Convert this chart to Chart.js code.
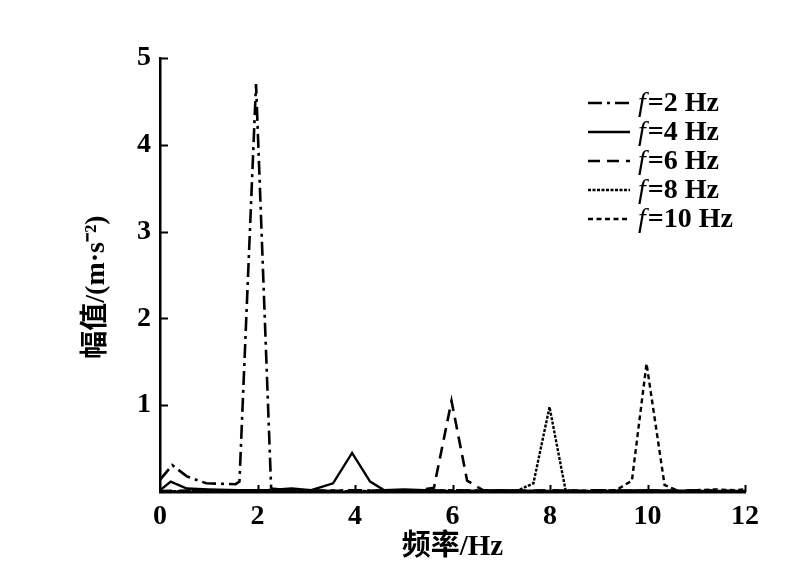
<!DOCTYPE html>
<html>
<head>
<meta charset="utf-8">
<script src="https://cdn.jsdelivr.net/npm/chart.js@4.4.1/dist/chart.umd.min.js"></script>
<style>
  html, body { margin: 0; padding: 0; background: #fff; }
  #wrap { width: 803px; height: 584px; position: relative; }
</style>
</head>
<body>
<div id="wrap"><canvas id="c"></canvas></div>
<script>
// ---- data (frequency, Hz / amplitude, m·s^-2) ----
const freq2 = [0, 0.25, 0.55, 0.95, 1.55, 1.63, 1.97, 2.28, 2.6, 3.2, 4, 5, 6, 7, 8, 9, 10, 11, 12];
const amp2  = [0.14, 0.31, 0.18, 0.1, 0.09, 0.12, 4.7, 0.04, 0.02, 0.01, 0.02, 0.01, 0.02, 0.01, 0.01, 0.02, 0.01, 0.01, 0.01];

const freq4 = [0, 0.22, 0.55, 1, 1.6, 2.2, 2.7, 3.1, 3.55, 3.94, 4.31, 4.6, 5, 6, 7, 8, 9, 10, 11, 12];
const amp4  = [0.02, 0.12, 0.04, 0.03, 0.02, 0.02, 0.04, 0.02, 0.1, 0.45, 0.12, 0.02, 0.03, 0.01, 0.02, 0.01, 0.01, 0.02, 0.01, 0.01];

const freq6 = [0, 1, 2, 3, 4, 5, 5.3, 5.62, 5.98, 6.3, 6.63, 7, 8, 9, 10, 11, 12];
const amp6  = [0.01, 0.02, 0.01, 0.02, 0.01, 0.02, 0.02, 0.05, 1.05, 0.13, 0.02, 0.01, 0.02, 0.01, 0.01, 0.02, 0.01];

const freq8 = [0, 1, 2, 3, 4, 5, 6, 7, 7.35, 7.66, 7.99, 8.32, 8.6, 9, 10, 11, 12];
const amp8  = [0.01, 0.01, 0.02, 0.01, 0.01, 0.02, 0.01, 0.01, 0.02, 0.1, 0.98, 0.02, 0.01, 0.02, 0.01, 0.01, 0.01];

const freq10 = [0, 1, 2, 3, 4, 5, 6, 7, 8, 9, 9.35, 9.68, 9.98, 10.35, 10.65, 11, 11.4, 11.8, 12];
const amp10  = [0.01, 0.01, 0.01, 0.02, 0.01, 0.01, 0.02, 0.01, 0.01, 0.01, 0.02, 0.13, 1.48, 0.08, 0.01, 0.02, 0.03, 0.02, 0.03];

const xTicks = [0, 2, 4, 6, 8, 10, 12];
const yTicks = [0, 1, 2, 3, 4, 5];
const legendNames = ['=2 Hz', '=4 Hz', '=6 Hz', '=8 Hz', '=10 Hz'];
const xTitle = '频率/Hz';
const yTitle = '幅值/(m·s⁻²)';

// стили линий
const dashes = [[14, 5, 3, 5], [], [12, 7], [3, 1.5], [5, 3.5]];
const widths = [2.6, 2.4, 2.6, 2.4, 2.4];

const SERIF = '"Liberation Serif", "Noto Sans CJK SC", serif';

function pts(xs, ys) { return xs.map((x, i) => ({ x, y: ys[i] })); }

const series = [pts(freq2, amp2), pts(freq4, amp4), pts(freq6, amp6), pts(freq8, amp8), pts(freq10, amp10)];

// inward ticks, rotated y title, legend with italic f
const decor = {
  id: 'decor',
  afterDraw(chart) {
    const { ctx, chartArea: a, scales: { x, y } } = chart;
    ctx.save();
    ctx.strokeStyle = '#000';
    ctx.lineWidth = 2;
    yTicks.forEach(v => {
      if (!v) return;
      const py = Math.round(y.getPixelForValue(v)) + 0.5;
      ctx.beginPath(); ctx.moveTo(a.left, py); ctx.lineTo(a.left + 8, py); ctx.stroke();
    });
    xTicks.forEach(v => {
      if (!v) return;
      const px = Math.round(x.getPixelForValue(v)) + 0.5;
      ctx.beginPath(); ctx.moveTo(px, a.bottom); ctx.lineTo(px, a.bottom - 7); ctx.stroke();
    });

    // y title
    ctx.save();
    ctx.translate(97, 287);
    ctx.rotate(-Math.PI / 2);
    ctx.fillStyle = '#000';
    ctx.font = 'bold 28px ' + SERIF;
    ctx.textAlign = 'center';
    ctx.textBaseline = 'middle';
    ctx.fillText(yTitle, 0, 0);
    ctx.restore();

    // legend
    ctx.fillStyle = '#000';
    ctx.textBaseline = 'middle';
    ctx.textAlign = 'left';
    legendNames.forEach((name, i) => {
      const ly = 103 + i * 29;
      ctx.save();
      ctx.lineWidth = widths[i];
      ctx.setLineDash(dashes[i]);
      ctx.beginPath(); ctx.moveTo(588, ly); ctx.lineTo(630, ly); ctx.stroke();
      ctx.restore();
      ctx.font = 'italic 28px ' + SERIF;
      ctx.fillText('f', 638, ly + 1);
      const w = ctx.measureText('f').width;
      ctx.font = 'bold 28px ' + SERIF;
      ctx.fillText(name, 638 + w + 2, ly + 1);
    });
    ctx.restore();
  }
};

new Chart(document.getElementById('c'), {
  type: 'scatter',
  data: {
    datasets: series.map((d, i) => ({
      label: 'f' + legendNames[i],
      data: d,
      showLine: true,
      borderColor: '#000',
      backgroundColor: '#000',
      borderWidth: widths[i],
      borderDash: dashes[i],
      pointRadius: 0,
      tension: 0
    }))
  },
  options: {
    responsive: true,
    maintainAspectRatio: false,
    animation: false,
    devicePixelRatio: 1,
    layout: { padding: { left: 0, top: 58, right: 58, bottom: 0 } },
    plugins: { legend: { display: false }, tooltip: { enabled: false } },
    scales: {
      x: {
        type: 'linear', min: 0, max: 12,
        afterFit: s => { s.height = 92; },
        afterBuildTicks: s => { s.ticks = xTicks.map(v => ({ value: v })); },
        grid: { drawOnChartArea: false, drawTicks: false },
        border: { display: true, color: '#000', width: 2.5 },
        ticks: { color: '#000', padding: 8, font: { family: SERIF, size: 28, weight: 'bold' }, maxRotation: 0 },
        title: { display: true, text: xTitle, color: '#000', padding: { top: 0, bottom: 19 },
                 font: { family: SERIF, size: 29, weight: 'bold' } }
      },
      y: {
        type: 'linear', min: 0, max: 5,
        afterFit: s => { s.width = 160; },
        afterBuildTicks: s => { s.ticks = yTicks.map(v => ({ value: v })); },
        grid: { drawOnChartArea: false, drawTicks: false },
        border: { display: true, color: '#000', width: 2.5 },
        ticks: { color: '#000', padding: 9, font: { family: SERIF, size: 28, weight: 'bold' },
                 callback: v => (v === 0 ? '' : v) }
      }
    }
  },
  plugins: [decor]
});
</script>
</body>
</html>
